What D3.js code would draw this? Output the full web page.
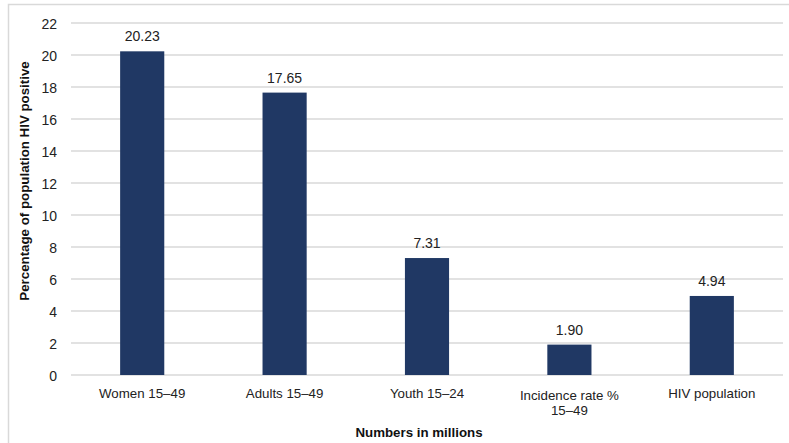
<!DOCTYPE html>
<html><head><meta charset="utf-8">
<script src="https://cdn.jsdelivr.net/npm/d3@7"></script>
<style>html,body{margin:0;padding:0;background:#fff;}svg{display:block;font-family:"Liberation Sans",Arial,sans-serif;}</style>
</head><body>
<svg id="c" width="789" height="443"></svg>
<script>
const categories = [["Women 15–49"], ["Adults 15–49"], ["Youth 15–24"], ["Incidence rate %", "15–49"], ["HIV population"]];
const values = [20.23, 17.65, 7.31, 1.90, 4.94];
const valueLabels = ["20.23", "17.65", "7.31", "1.90", "4.94"];
const yTicks = [0, 2, 4, 6, 8, 10, 12, 14, 16, 18, 20, 22];
const yTitle = "Percentage of population HIV positive";
const xTitle = "Numbers in millions";

const svg = d3.select("#c");
const m = {left: 71, right: 783, top: 23, bottom: 375};

// outer border (cropped: top and left visible)
svg.append("path").attr("d", "M8.5,443 V4.5 H789").attr("fill", "none").attr("stroke", "#d9d9d9").attr("stroke-width", 1.5);

const x = d3.scaleBand().domain(d3.range(categories.length)).range([m.left, m.right]).paddingInner(0.69).paddingOuter(0.345);
const y = d3.scaleLinear().domain([0, 22]).range([m.bottom, m.top]);

// gridlines
svg.append("g").selectAll("line").data(yTicks).join("line")
  .attr("x1", m.left).attr("x2", m.right)
  .attr("y1", d => y(d)).attr("y2", d => y(d))
  .attr("stroke", "#d9d9d9").attr("stroke-width", 1.5);

// y axis tick labels
const yAxis = d3.axisLeft(y).tickValues(yTicks).tickSize(0).tickPadding(0);
const gy = svg.append("g").attr("transform", `translate(57,0)`).call(yAxis);
gy.select(".domain").remove();
gy.selectAll("text").attr("font-size", 14).attr("fill", "#222").attr("font-family", "Liberation Sans, Arial, sans-serif").attr("dy", "0.36em");

// bars
svg.append("g").selectAll("rect").data(values).join("rect")
  .attr("x", (d, i) => x(i)).attr("width", x.bandwidth())
  .attr("y", d => y(d)).attr("height", d => y(0) - y(d))
  .attr("fill", "#203864");

// value labels
svg.append("g").selectAll("text").data(values).join("text")
  .attr("x", (d, i) => x(i) + x.bandwidth() / 2)
  .attr("y", d => y(d) - 10)
  .attr("text-anchor", "middle").attr("font-size", 14).attr("fill", "#222")
  .text((d, i) => valueLabels[i]);

// category labels
const cg = svg.append("g").selectAll("text").data(categories).join("text")
  .attr("x", (d, i) => x(i) + x.bandwidth() / 2)
  .attr("y", (d) => d.length > 1 ? 399.5 : 398)
  .attr("text-anchor", "middle").attr("font-size", 13.3).attr("fill", "#222");
cg.selectAll("tspan").data(d => d).join("tspan")
  .attr("x", function() { return this.parentNode.getAttribute("x"); })
  .attr("dy", (d, i) => i === 0 ? 0 : 15)
  .text(d => d);

// axis titles
svg.append("text").attr("x", 419).attr("y", 437).attr("text-anchor", "middle")
  .attr("font-size", 13.3).attr("font-weight", "bold").attr("fill", "#111").text(xTitle);
svg.append("text").attr("transform", "translate(29,181) rotate(-90)").attr("text-anchor", "middle")
  .attr("font-size", 13.3).attr("font-weight", "bold").attr("fill", "#111").text(yTitle);
</script>
</body></html>
